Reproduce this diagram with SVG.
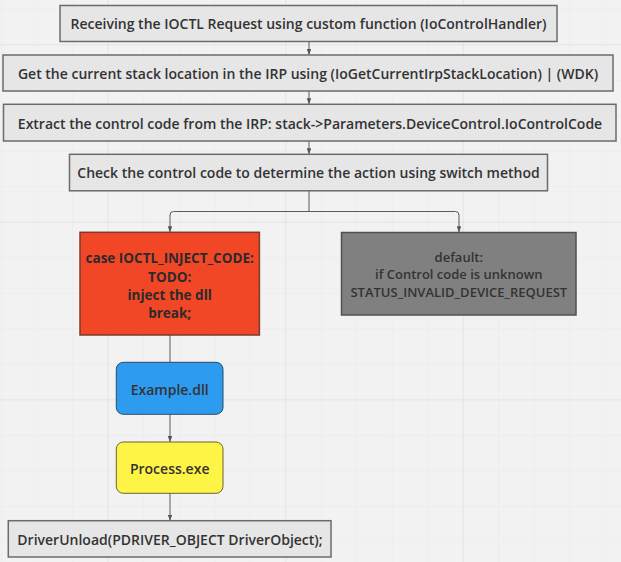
<svg xmlns="http://www.w3.org/2000/svg" width="621" height="562" viewBox="0 0 621 562">
<defs>
<pattern id="minor" x="1.2" y="8.8" width="35.5" height="35.5" patternUnits="userSpaceOnUse">
<path d="M0 0V35.5M0 0H35.5" fill="none" stroke="#e9e9e9" stroke-width="1"/>
</pattern>
<pattern id="major" x="107.7" y="44.3" width="177.5" height="177.5" patternUnits="userSpaceOnUse">
<path d="M0 0V177.5M0 0H177.5" fill="none" stroke="#e2e2e2" stroke-width="1.5"/>
</pattern>
<marker id="ah" viewBox="0 0 8 6" refX="8" refY="3" markerWidth="6" markerHeight="4.5" orient="auto" markerUnits="userSpaceOnUse">
<path d="M0 0L8 3L0 6Z" fill="#555"/>
</marker>
</defs>
<style>
.box{fill:#e6e6e6;stroke:#6b6b6b;stroke-width:1.5}
.t{font-family:"Open Sans","Noto Sans","Liberation Sans",sans-serif;font-size:14px;font-weight:600;fill:#333;text-anchor:middle;dominant-baseline:central}
.s{font-size:13px}
.b{font-size:13.5px;font-weight:700;fill:#2b2b2b}
.c{fill:none;stroke:#5a5a5a;stroke-width:1}
</style>
<rect width="621" height="562" fill="#f2f2f2"/>
<rect width="621" height="562" fill="url(#minor)"/>
<rect width="621" height="562" fill="url(#major)"/>

<g id="connectors">
<path class="c" d="M309 41.5V55" marker-end="url(#ah)"/>
<path class="c" d="M309 91V104.3" marker-end="url(#ah)"/>
<path class="c" d="M309 141V154.3" marker-end="url(#ah)"/>
<path class="c" d="M309 191V211.5"/>
<path class="c" d="M309 211.5H173.5Q170 211.5 170 215V232.3" marker-end="url(#ah)"/>
<path class="c" d="M309 211.5H455.5Q459 211.5 459 215V232.3" marker-end="url(#ah)"/>
<path class="c" d="M170 335V362.3"/>
<path class="c" d="M170 414.3V442" marker-end="url(#ah)"/>
<path class="c" d="M170 493.3V520.7" marker-end="url(#ah)"/>
</g>

<g id="n1">
<rect class="box" x="60" y="5.5" width="497" height="36"/>
<text class="t" x="308.5" y="23.5">Receiving the IOCTL Request using custom function (IoControlHandler)</text>
</g>
<g id="n2">
<rect class="box" x="3" y="55" width="610" height="36"/>
<text class="t" x="308" y="73.5">Get the current stack location in the IRP using (IoGetCurrentIrpStackLocation) | (WDK)</text>
</g>
<g id="n3">
<rect class="box" x="3.5" y="104.3" width="612.5" height="36.7"/>
<text class="t" x="310" y="123">Extract the control code from the IRP: stack-&gt;Parameters.DeviceControl.IoControlCode</text>
</g>
<g id="n4">
<rect class="box" x="69.5" y="154.3" width="478" height="36.5"/>
<text class="t" x="308.5" y="172.8">Check the control code to determine the action using switch method</text>
</g>
<g id="n5">
<rect x="80" y="232.3" width="179.4" height="102.7" fill="#f24726" stroke="#7d3a2c" stroke-width="1.5"/>
<text class="t b" x="169.7" y="258.3">case IOCTL_INJECT_CODE:</text>
<text class="t b" x="169.7" y="276.5">TODO:</text>
<text class="t b" x="169.7" y="294.5">inject the dll</text>
<text class="t b" x="169.7" y="312.5">break;</text>
</g>
<g id="n6">
<rect x="341.5" y="232.5" width="234.5" height="82.5" fill="#808080" stroke="#505050" stroke-width="1.5"/>
<text class="t s" x="458.8" y="256.7">default:</text>
<text class="t s" x="458.8" y="274.3">if Control code is unknown</text>
<text class="t s" x="458.8" y="291.8">STATUS_INVALID_DEVICE_REQUEST</text>
</g>
<g id="n7">
<rect x="116.3" y="362.3" width="106.7" height="52" rx="7" fill="#2d9bf0" stroke="#2a4a66" stroke-width="1"/>
<text class="t" x="169.7" y="389">Example.dll</text>
</g>
<g id="n8">
<rect x="116.3" y="442" width="106.7" height="51.3" rx="7" fill="#fef445" stroke="#6a6530" stroke-width="1"/>
<text class="t" x="169.7" y="468">Process.exe</text>
</g>
<g id="n9">
<rect class="box" x="8.3" y="520.7" width="322.7" height="36.3"/>
<text class="t" x="170" y="539.5">DriverUnload(PDRIVER_OBJECT DriverObject);</text>
</g>
</svg>
